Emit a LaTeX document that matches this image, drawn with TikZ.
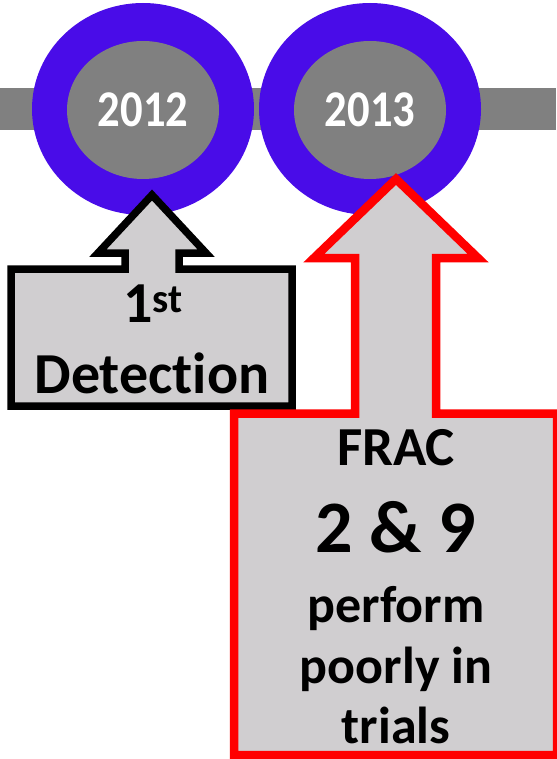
\documentclass[tikz,border=0pt]{standalone}
\usepackage{fontspec}
\usepackage{graphicx}
\setmainfont{Carlito}[Ligatures=NoCommon]
\usetikzlibrary{shapes.geometric}
\definecolor{ringblue}{RGB}{73,12,232}
\definecolor{bargray}{RGB}{128,128,128}
\definecolor{boxgray}{RGB}{208,206,208}
\definecolor{alertred}{RGB}{255,0,0}
\newcommand{\yeartext}[1]{\scalebox{0.97}[1.12]{#1}}
\tikzset{
  ring/.style={fill=ringblue},
  year/.style={ellipse, fill=bargray, inner sep=0pt, minimum width=152pt,
    minimum height=138pt, text=white, font=\fontsize{46}{46}\selectfont\bfseries},
  callout/.style={fill=boxgray, line join=miter, miter limit=10},
  label/.style={anchor=base, inner sep=0pt, font=\bfseries},
}
\begin{document}
\begin{tikzpicture}[x=1pt, y=-1pt]
\useasboundingbox (0,0) rectangle (556,759);
% timeline bar
\fill[bargray] (0,88) rectangle (556,130);
% year markers
\fill[ring] (143,109) ellipse [x radius=111, y radius=106];
\fill[ring] (370,109) ellipse [x radius=111, y radius=106];
\node[year] (y2012) at (143,110) {\yeartext{2012}};
\node[year] (y2013) at (370,110) {\yeartext{2013}};
% callout for 2012
\draw[callout, draw=black, line width=7.5pt]
  (152,195) -- (206,253) -- (179,253) -- (179,269) -- (292,269) -- (292,406)
  -- (11,406) -- (11,269) -- (125,269) -- (125,253) -- (98,253) -- cycle;
% callout for 2013
\draw[callout, draw=alertred, line width=8.5pt]
  (396,179) -- (478,258) -- (436,258) -- (436,413.5) -- (557,413.5) -- (557,755)
  -- (234,755) -- (234,413.5) -- (355,413.5) -- (355,258) -- (314,258) -- cycle;
% callout texts
\node[label, font=\fontsize{58}{58}\selectfont\bfseries] (first) at (153,322) {1\textsuperscript{st}};
\node[label, font=\fontsize{58}{58}\selectfont\bfseries] (detect) at (152,393) {Detection};
\node[label, font=\fontsize{55}{55}\selectfont\bfseries] (frac) at (396,465) {FRAC};
\node[label, font=\fontsize{74}{74}\selectfont\bfseries] (groups) at (396,552) {2 \& 9};
\node[label, font=\fontsize{52}{52}\selectfont\bfseries] (perf) at (396,622) {perform};
\node[label, font=\fontsize{52}{52}\selectfont\bfseries] (poor) at (396,683) {poorly in};
\node[label, font=\fontsize{52}{52}\selectfont\bfseries] (trials) at (396,743) {trials};
\end{tikzpicture}
\end{document}
